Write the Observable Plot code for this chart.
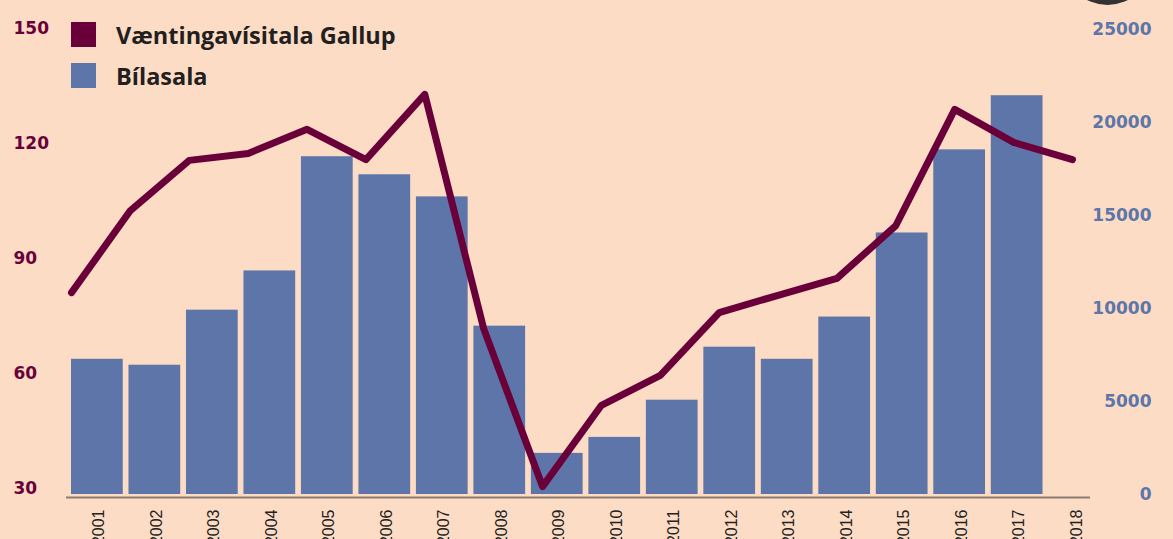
<!DOCTYPE html>
<html>
<head>
<meta charset="utf-8">
<script src="https://cdn.jsdelivr.net/npm/d3@7"></script>
<script src="https://cdn.jsdelivr.net/npm/@observablehq/plot@0.6"></script>
<style>
  html, body { margin: 0; padding: 0; background: #fcdcc5; }
  #wrap { position: relative; width: 1173px; height: 539px; overflow: hidden; background: #fcdcc5; }
  #wrap svg { position: absolute; left: 0; top: 0; background: transparent; }
  #legend { position: absolute; left: 71px; top: 22px; font-family: "Open Sans", sans-serif; font-weight: 700; font-size: 23.5px; color: #231f20; }
  .item { display: flex; align-items: center; height: 25px; margin-bottom: 16px; }
  .sw { width: 25px; height: 25px; margin-right: 20px; flex: none; }
  #dot { position: absolute; left: 1063px; top: -84px; width: 89px; height: 89px; border-radius: 50%; background: #333; }
</style>
</head>
<body>
<div id="wrap">
  <div id="dot"></div>
</div>
<script>
const years = [2001, 2002, 2003, 2004, 2005, 2006, 2007, 2008, 2009, 2010, 2011, 2012, 2013, 2014, 2015, 2016, 2017, 2018];
const bilasala = [7270, 6950, 9910, 12020, 18160, 17190, 16000, 9050, 2210, 3070, 5070, 7920, 7270, 9540, 14060, 18530, 21440, null];
const vaentingavisitala = [81.1, 102.5, 115.6, 117.4, 123.7, 115.8, 132.8, 71.7, 30.5, 51.7, 59.5, 75.9, 80.4, 84.8, 98.6, 128.9, 120.3, 115.8];
const leftTicks = [30, 60, 90, 120, 150];
const rightTicks = [0, 5000, 10000, 15000, 20000, 25000];
const seriesNames = ["Væntingavísitala Gallup", "Bílasala"];
const seriesColors = ["#6a0039", "#5d75a8"];

const barData = years.map((y, i) => ({year: String(y), value: bilasala[i]})).filter(d => d.value != null);
const lineData = years.map((y, i) => ({year: String(y), value: vaentingavisitala[i]}));

const W = 1173, H = 539;
const tickFont = "'DejaVu Sans', Verdana, sans-serif";

const bars = Plot.plot({
  width: W, height: H,
  marginTop: 29, marginBottom: 45, marginLeft: 71, marginRight: 73,
  style: {background: "transparent", fontFamily: tickFont},
  x: {type: "band", domain: years.map(String), paddingInner: 0.1, paddingOuter: 0, round: false},
  y: {domain: [0, 25000]},
  marks: [
    Plot.barY(barData, {x: "year", y: "value", fill: seriesColors[1]}),
    Plot.ruleY([0], {stroke: "#8c7b70", strokeWidth: 2, dy: 3, insetLeft: -5, insetRight: 10}),
    Plot.axisX({tickSize: 0, tickPadding: 15, tickRotate: -90, fontSize: 16, fontFamily: "'Liberation Sans', Arial, sans-serif",
      fill: "#222", dx: 2, label: null}),
    Plot.axisY({anchor: "right", ticks: rightTicks, tickSize: 0, tickPadding: 0, textAnchor: "end", dx: 51,
      tickFormat: d => String(d), fontSize: 17, fontWeight: "bold", fill: seriesColors[1], label: null})
  ]
});

const line = Plot.plot({
  width: W, height: H,
  marginTop: 28, marginBottom: 51, marginLeft: 71, marginRight: 101,
  style: {background: "transparent", fontFamily: tickFont},
  x: {type: "point", domain: years.map(String), padding: 0, round: false, axis: null},
  y: {domain: [30, 150]},
  marks: [
    Plot.line(lineData, {x: "year", y: "value", stroke: seriesColors[0], strokeWidth: 7, strokeLinecap: "round", strokeLinejoin: "round"}),
    Plot.axisY({anchor: "left", ticks: leftTicks, tickSize: 0, tickPadding: 0, textAnchor: "start", dx: -58,
      tickFormat: d => String(d), fontSize: 17, fontWeight: "bold", fill: seriesColors[0], label: null})
  ]
});

const wrap = document.getElementById("wrap");
wrap.appendChild(bars);
wrap.appendChild(line);

const legend = document.createElement("div");
legend.id = "legend";
seriesNames.forEach((name, i) => {
  const item = document.createElement("div");
  item.className = "item";
  const sw = document.createElement("div");
  sw.className = "sw";
  sw.style.background = seriesColors[i];
  const t = document.createElement("span");
  t.textContent = name;
  item.appendChild(sw);
  item.appendChild(t);
  legend.appendChild(item);
});
wrap.appendChild(legend);
</script>
</body>
</html>
